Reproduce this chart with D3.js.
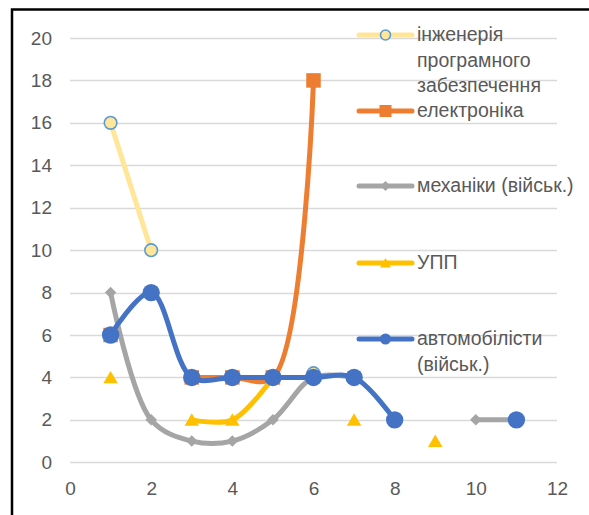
<!DOCTYPE html>
<html>
<head>
<meta charset="utf-8">
<script src="https://cdn.jsdelivr.net/npm/d3@7"></script>
<style>
  body { margin: 0; background: #fff; }
  svg text { font-family: "Liberation Sans", Arial, sans-serif; fill: #595959; }
</style>
</head>
<body>
<div id="chart"></div>
<script>
// x positions (course / group number)
const xValues = [1, 2, 3, 4, 5, 6, 7, 8, 9, 10, 11];

// series values, null = gap
const software    = [16, 10, null, null, null, 4.2, null, null, null, null, null];
const electronics = [6, null, 4, 4, 4, 18, null, null, null, null, null];
const mechanics   = [8, 2, 1, 1, 2, 4, 4, null, null, 2, 2];
const upp         = [4, null, 2, 2, 4, null, 2, null, 1, null, null];
const autoMil     = [6, 8, 4, 4, 4, 4, 4, 2, null, null, 2];

const seriesNames = [
  ["інженерія", "програмного", "забезпечення"],
  ["електроніка"],
  ["механіки (військ.)"],
  ["УПП"],
  ["автомобілісти", "(військ.)"]
];

const xTicks = [0, 2, 4, 6, 8, 10, 12];
const yTicks = [0, 2, 4, 6, 8, 10, 12, 14, 16, 18, 20];

const width = 589, height = 515;

const series = [
  { name: seriesNames[0], values: software,    line: "#FFE699", fill: "#FFE699", stroke: "#5B9BD5", marker: "circleSmall" },
  { name: seriesNames[1], values: electronics, line: "#ED7D31", fill: "#ED7D31", stroke: "none",    marker: "square" },
  { name: seriesNames[2], values: mechanics,   line: "#A5A5A5", fill: "#A5A5A5", stroke: "none",    marker: "diamond" },
  { name: seriesNames[3], values: upp,         line: "#FFC000", fill: "#FFC000", stroke: "none",    marker: "triangle" },
  { name: seriesNames[4], values: autoMil,     line: "#4472C4", fill: "#4472C4", stroke: "none",    marker: "circle" }
];

const svg = d3.select("#chart").append("svg")
  .attr("width", width)
  .attr("height", height);

// chart border (continues past the window on right/bottom)
svg.append("rect")
  .attr("x", 12).attr("y", 9.5)
  .attr("width", 700).attr("height", 700)
  .attr("fill", "none")
  .attr("stroke", "#000")
  .attr("stroke-width", 2.5);

const x = d3.scaleLinear().domain([0, 12]).range([70, 557]);
const y = d3.scaleLinear().domain([0, 20]).range([462.3, 38]);

// gridlines
svg.append("g")
  .selectAll("line")
  .data(yTicks)
  .join("line")
  .attr("x1", x(0)).attr("x2", x(12))
  .attr("y1", d => Math.round(y(d)) + 0.5)
  .attr("y2", d => Math.round(y(d)) + 0.5)
  .attr("stroke", "#D9D9D9")
  .attr("stroke-width", 1.3);

// axes as plain tick labels
const yAxis = d3.axisLeft(y).tickValues(yTicks).tickSize(0).tickPadding(0);
svg.append("g")
  .attr("transform", "translate(52,0)")
  .call(yAxis)
  .call(g => g.select(".domain").remove())
  .selectAll("text")
  .style("font-size", "19px");

const xAxis = d3.axisBottom(x).tickValues(xTicks).tickSize(0).tickPadding(0);
svg.append("g")
  .attr("transform", "translate(0,481)")
  .call(xAxis)
  .call(g => g.select(".domain").remove())
  .selectAll("text")
  .style("font-size", "19px");

svg.selectAll(".tick text").attr("fill", "#595959");

// lines
const line = d3.line()
  .defined(d => d.v !== null)
  .x(d => x(d.x))
  .y(d => y(d.v))
  .curve(d3.curveCatmullRom.alpha(0.5));

function markerPath(type, s) {
  if (type === "square") return `M${-s/2},${-s/2}h${s}v${s}h${-s}Z`;
  if (type === "diamond") return `M0,${-s/2}L${s/2},0L0,${s/2}L${-s/2},0Z`;
  if (type === "triangle") return `M0,${-s*0.45}L${s/2},${s*0.4}L${-s/2},${s*0.4}Z`;
  return null;
}

function drawMarker(g, sr, cx, cy, small) {
  const sizes = small
    ? { circle: 5.5, circleSmall: 5, square: 12, diamond: 10, triangle: 11 }
    : { circle: 8.7, circleSmall: 6.3, square: 14.5, diamond: 11.5, triangle: 14.5 };
  const s = sizes[sr.marker];
  if (sr.marker === "circle" || sr.marker === "circleSmall") {
    g.append("circle")
      .attr("cx", cx).attr("cy", cy).attr("r", s)
      .attr("fill", sr.fill)
      .attr("stroke", sr.stroke)
      .attr("stroke-width", sr.stroke === "none" ? 0 : 1.6);
  } else {
    g.append("path")
      .attr("d", markerPath(sr.marker, s))
      .attr("transform", `translate(${cx},${cy})`)
      .attr("fill", sr.fill);
  }
}

series.forEach(sr => {
  const pts = xValues.map((xv, i) => ({ x: xv, v: sr.values[i] }));
  const g = svg.append("g");
  g.append("path")
    .datum(pts)
    .attr("d", line)
    .attr("fill", "none")
    .attr("stroke", sr.line)
    .attr("stroke-width", 5)
    .attr("stroke-linecap", "butt")
    .attr("stroke-linejoin", "round");
  pts.filter(p => p.v !== null).forEach(p => drawMarker(g, sr, x(p.x), y(p.v), false));
});

// legend
const legendBaselines = [41, 117, 192, 269, 345];
const lineGap = 25.7;
series.forEach((sr, i) => {
  const g = svg.append("g");
  const base = legendBaselines[i];
  const cy = base - 6;
  g.append("line")
    .attr("x1", 359).attr("x2", 412)
    .attr("y1", cy).attr("y2", cy)
    .attr("stroke", sr.line)
    .attr("stroke-width", 5)
    .attr("stroke-linecap", "round");
  drawMarker(g, sr, 385.5, cy, true);
  sr.name.forEach((t, k) => {
    g.append("text")
      .attr("x", 417)
      .attr("y", base + k * lineGap)
      .style("font-size", "19.5px")
      .text(t);
  });
});
</script>
</body>
</html>
